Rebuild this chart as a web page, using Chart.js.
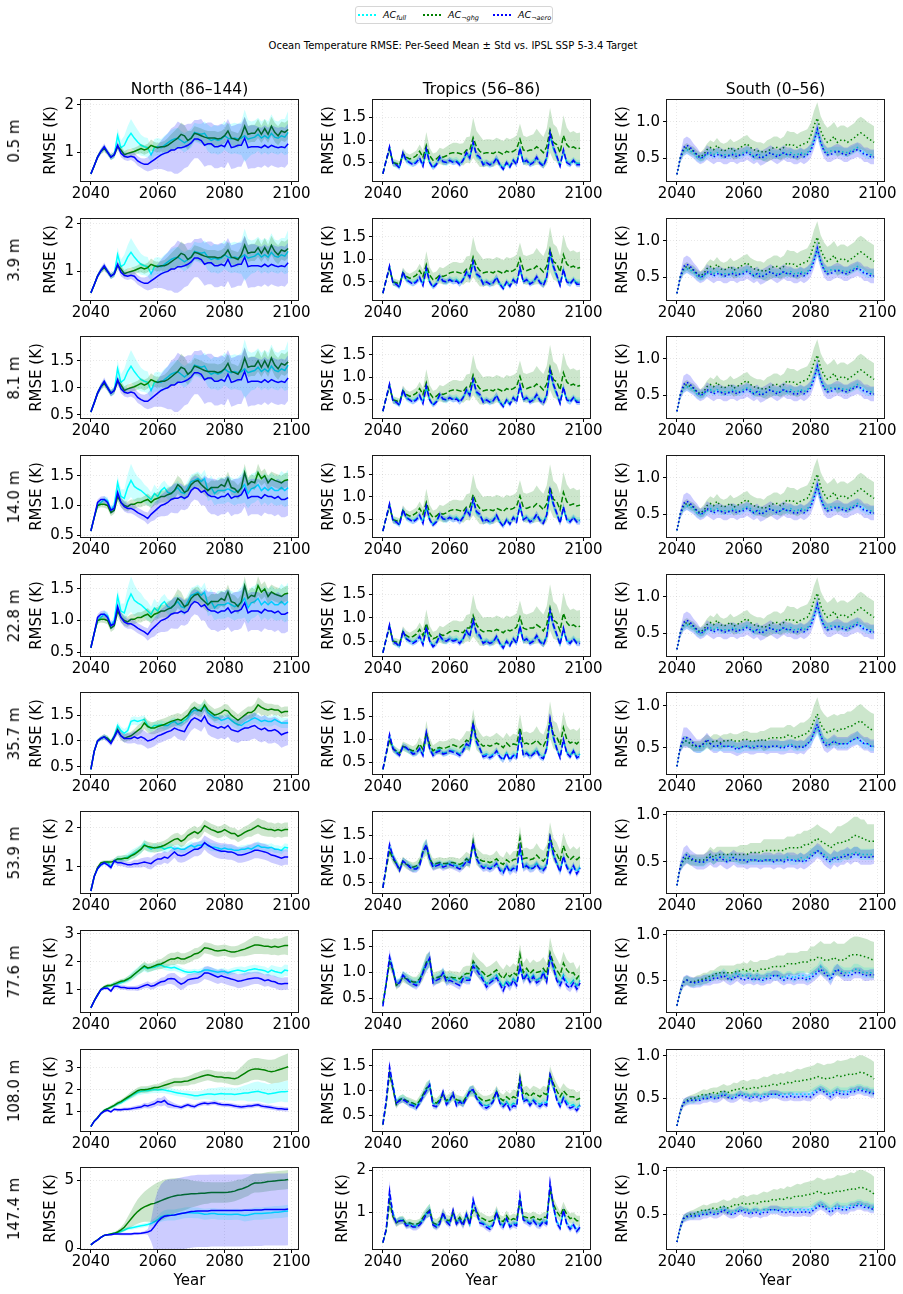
<!DOCTYPE html>
<html>
<head>
<meta charset="utf-8">
<script src="https://cdn.jsdelivr.net/npm/chart.js@4.4.1/dist/chart.umd.min.js"></script>
<style>
  body { margin: 0; background: #fff; font-family: "DejaVu Sans", sans-serif; color: #000; }
  #fig { position: relative; width: 903px; height: 1294px; overflow: hidden; }
  canvas { position: absolute; }
  .lab { position: absolute; white-space: nowrap; transform: translate(-50%, -50%); }
  .rot { transform: translate(-50%, -50%) rotate(-90deg); }
  #legend { position: absolute; left: 355px; top: 6px; width: 196px; height: 16px;
            border: 1px solid #d6d6d6; border-radius: 3px; font-size: 9.5px; }
  .lk { position: absolute; top: 7px; width: 18px; height: 2px; display: block; }
  .lt { position: absolute; top: 0px; line-height: 15px; }
  .lt i { font-style: italic; }
  .lt sub { font-size: 6.5px; font-style: italic; vertical-align: -2px; }
</style>
</head>
<body>
<div id="fig">
  <div id="legend">
    <span class="lk" style="left:2px;background:repeating-linear-gradient(90deg,#00ffff 0 2px,transparent 2px 4px)"></span><span class="lt" style="left:27px"><i>AC</i><sub>full</sub></span>
    <span class="lk" style="left:67px;background:repeating-linear-gradient(90deg,#008000 0 2px,transparent 2px 4px)"></span><span class="lt" style="left:92px"><i>AC</i><sub>¬ghg</sub></span>
    <span class="lk" style="left:137px;background:repeating-linear-gradient(90deg,#0000ff 0 2px,transparent 2px 4px)"></span><span class="lt" style="left:162px"><i>AC</i><sub>¬aero</sub></span>
  </div>
  <div class="lab" style="left:453px;top:45px;font-size:10px">Ocean Temperature RMSE: Per-Seed Mean ± Std vs. IPSL SSP 5-3.4 Target</div>
</div>
<script>
// ===== DATA (all RMSE values in 0.01 K) =====
const years = [2040,2041,2042,2043,2044,2045,2046,2047,2048,2049,
  2050,2051,2052,2053,2054,2055,2056,2057,2058,2059,
  2060,2061,2062,2063,2064,2065,2066,2067,2068,2069,
  2070,2071,2072,2073,2074,2075,2076,2077,2078,2079,
  2080,2081,2082,2083,2084,2085,2086,2087,2088,2089,
  2090,2091,2092,2093,2094,2095,2096,2097,2098,2099];

const regions = ["North (86–144)", "Tropics (56–86)", "South (0–56)"];
const depths = ["0.5 m","3.9 m","8.1 m","14.0 m","22.8 m","35.7 m","53.9 m","77.6 m","108.0 m","147.4 m"];
const seriesNames = ["full", "ghg", "aero"];
const xTickYears = [2040, 2060, 2080, 2100];

// North, 0.5 / 3.9 / 8.1 m
const nA_full    = [55,72,90,102,110,100,90,95,135,110, 115,130,140,130,122,115,112,110,95,110, 112,110,115,120,125,128,130,125,120,125, 130,142,140,138,140,130,125,128,125,128, 135,130,128,130,128,130,135,128,130,132, 138,130,135,130,140,132,130,135,132,142];
const nA_full_sd = [3,4,5,5,6,6,6,8,15,15, 20,25,30,28,25,22,20,20,15,18, 18,18,20,20,22,22,22,20,20,20, 20,20,20,22,25,28,28,30,30,30, 30,30,32,32,32,35,55,40,35,35, 35,35,35,35,40,35,35,35,38,45];
const nA_ghg     = [55,72,90,102,108,100,90,95,112,105, 95,98,100,102,105,108,105,108,115,112, 110,112,112,115,120,125,130,138,135,125, 130,140,138,135,132,130,130,130,128,130, 135,145,130,128,125,135,155,138,140,140, 150,138,150,138,155,142,135,145,142,148];
const nA_ghg_sd  = [3,4,5,6,7,6,6,6,8,8, 8,8,8,8,8,10,10,10,12,10, 10,10,12,15,18,20,22,25,22,20, 15,15,15,15,15,15,15,15,15,15, 15,18,15,15,15,18,20,18,18,18, 20,18,20,18,20,20,20,20,20,20];
const nA_aero    = [55,72,90,102,112,100,90,95,115,98, 92,90,92,90,82,78,75,75,80,85, 90,95,98,100,105,105,110,110,112,115, 120,128,128,125,115,118,118,112,112,115, 112,125,110,112,115,115,130,110,112,112, 112,110,115,110,115,112,110,112,110,118];
const nA_aero_sd = [3,4,5,6,7,6,6,6,8,8, 8,8,8,10,10,10,12,15,18,20, 25,30,35,40,45,50,55,50,45,45, 40,40,40,45,45,45,45,45,45,45, 45,45,45,45,45,45,45,45,45,45, 42,42,42,42,42,42,42,42,42,42];

// North, 14.0 / 22.8 m
const nB_full    = [57,80,100,105,110,108,92,100,138,115, 112,130,142,132,128,125,120,115,110,120, 115,125,130,122,120,125,130,122,120,130, 140,142,145,140,145,125,130,120,125,125, 125,128,125,122,125,128,135,120,128,130, 135,125,130,125,130,125,125,130,125,130];
const nB_full_sd = [3,4,5,5,6,6,6,8,12,12, 15,22,28,25,20,18,15,15,12,15, 12,12,12,12,12,12,12,12,12,12, 12,12,12,12,15,18,20,20,22,22, 22,22,22,22,22,25,30,25,25,25, 25,25,25,25,25,25,25,28,28,30];
const nB_ghg     = [57,80,100,102,102,100,88,92,115,105, 100,98,102,102,105,105,108,110,105,110, 112,115,115,118,120,125,135,130,122,125, 135,140,142,135,130,125,130,130,130,135, 132,145,130,128,122,130,155,135,140,138, 155,145,150,138,145,142,140,138,142,143];
const nB_ghg_sd  = [3,4,5,5,6,6,6,6,8,8, 8,8,8,8,8,8,8,10,10,10, 10,10,10,12,12,15,15,15,12,12, 12,12,12,12,12,12,12,12,12,12, 12,12,12,12,12,12,15,12,12,12, 15,12,12,12,12,12,12,12,12,12];
const nB_aero    = [57,80,105,110,110,105,92,95,122,105, 98,95,95,92,88,85,82,78,85,90, 95,100,102,105,110,112,112,115,112,115, 125,130,128,122,125,118,115,115,112,115, 115,120,112,115,115,118,128,112,115,115, 115,112,118,115,115,112,115,110,110,113];
const nB_aero_sd = [3,4,5,5,6,6,6,6,8,8, 8,8,8,8,8,8,8,10,12,15, 15,18,20,22,22,25,25,22,20,20, 20,20,20,22,25,28,30,30,30,30, 30,30,30,30,30,30,30,30,30,30, 30,30,30,30,30,30,30,30,30,30];

// North, 35.7 m
const nC_full    = [45,80,100,105,108,105,98,110,130,120, 115,120,138,140,138,140,142,130,125,130, 130,132,130,130,135,138,132,135,140,145, 155,160,158,162,168,155,150,145,145,140, 142,145,140,135,132,130,135,138,142,145, 142,138,140,138,138,142,138,135,135,135];
const nC_full_sd = [2,3,4,4,5,5,5,6,8,8, 8,8,8,8,8,8,8,8,8,8, 8,8,8,8,8,8,8,8,8,8, 8,8,8,10,10,10,10,10,10,10, 10,10,10,10,10,10,10,10,10,10, 10,10,10,10,10,10,10,10,10,10];
const nC_ghg     = [45,80,100,105,108,105,98,108,122,110, 105,108,110,115,120,125,135,128,125,125, 128,130,132,135,138,140,142,140,145,150, 160,165,160,158,170,160,155,150,152,155, 160,158,150,145,140,145,150,155,155,160, 170,165,162,160,162,160,160,155,157,157];
const nC_ghg_sd  = [2,3,4,4,5,5,5,6,8,8, 8,8,8,8,10,10,12,12,12,12, 12,12,12,12,12,12,12,12,12,12, 12,12,12,12,12,12,12,12,12,12, 12,12,12,12,12,12,12,12,12,12, 15,15,12,12,10,10,10,10,10,10];
const nC_aero    = [45,80,100,105,108,102,95,108,120,110, 105,105,105,108,105,108,105,100,102,105, 110,112,115,118,120,125,122,120,118,130, 140,145,142,138,148,135,130,128,125,128, 125,130,122,120,118,122,125,125,128,130, 125,122,125,120,120,122,118,112,115,117];
const nC_aero_sd = [2,3,4,4,5,5,5,6,8,8, 8,10,10,12,12,15,15,15,15,15, 15,15,15,15,15,15,18,18,18,20, 20,20,20,20,20,22,22,22,22,22, 22,22,22,22,22,22,25,25,25,25, 25,25,25,25,25,25,25,25,25,25];

// North, 53.9 m
const nD_full    = [38,75,95,105,110,112,100,115,120,120, 122,125,130,135,140,145,158,150,145,150, 148,150,145,148,150,145,148,145,145,150, 155,150,155,155,160,155,150,150,148,145, 148,145,145,142,142,145,145,148,145,150, 155,150,150,148,150,145,145,142,150,148];
const nD_full_sd = [2,3,4,5,5,5,6,6,8,8, 8,10,12,12,12,12,12,12,10,10, 10,10,10,10,10,10,10,10,10,10, 10,10,10,10,10,10,10,10,10,10, 10,10,10,10,10,10,10,10,10,10, 10,10,10,10,10,10,10,10,10,10];
const nD_ghg     = [38,75,98,110,112,112,112,115,120,120, 122,122,128,132,138,145,155,152,150,148, 150,152,155,160,165,170,172,165,170,180, 185,190,185,192,205,200,195,192,188,190, 195,190,185,185,178,182,188,192,195,200, 205,200,198,195,195,192,195,192,195,195];
const nD_ghg_sd  = [2,3,4,5,5,5,6,6,8,8, 8,8,8,10,10,10,12,12,12,12, 12,12,12,12,15,15,15,15,15,15, 15,15,15,15,15,15,15,15,15,15, 15,15,15,15,15,15,15,15,18,18, 20,20,20,18,18,18,18,18,18,18];
const nD_aero    = [38,75,95,105,110,105,98,115,110,110, 108,105,105,108,108,110,112,110,108,115, 120,120,125,122,130,138,130,128,130,135, 140,145,145,150,162,155,150,145,142,140, 140,138,138,135,130,130,132,135,138,142, 142,140,138,135,130,128,125,122,125,125];
const nD_aero_sd = [2,3,4,5,5,5,6,6,8,8, 8,8,8,10,10,12,12,15,15,15, 15,15,15,15,15,15,18,18,18,18, 18,18,18,18,18,20,20,20,20,20, 20,20,20,20,20,20,20,20,20,20, 20,20,20,20,20,20,20,20,20,20];

// North, 77.6 m
const nE_full    = [35,60,80,100,108,112,115,120,122,125, 130,135,145,155,165,175,180,175,178,180, 185,188,182,180,178,180,175,170,165,162, 162,165,162,165,170,170,168,165,162,165, 165,160,165,168,170,168,165,170,172,175, 172,170,168,162,170,165,162,160,170,168];
const nE_full_sd = [3,4,5,6,6,6,6,8,8,10, 10,12,15,15,15,15,15,15,12,12, 12,12,12,12,12,12,12,10,10,10, 10,10,10,12,12,12,12,12,12,12, 12,12,12,12,12,15,15,15,15,15, 15,15,15,15,18,20,20,20,20,20];
const nE_ghg     = [35,60,82,100,110,115,115,120,125,130, 132,138,145,155,165,175,185,178,180,185, 190,192,198,205,210,210,215,210,210,215, 220,228,230,238,250,248,245,240,238,240, 242,238,235,235,238,242,245,250,255,260, 260,258,255,255,252,255,252,255,258,258];
const nE_ghg_sd  = [3,4,5,6,6,6,6,8,8,8, 8,10,10,12,12,15,15,15,15,15, 18,18,20,22,22,22,22,20,20,20, 20,20,20,20,20,20,20,20,20,20, 20,20,20,20,20,22,25,28,30,32, 32,30,28,28,28,30,30,30,32,35];
const nE_aero    = [35,60,80,100,105,105,95,112,112,108, 108,105,105,105,105,110,115,118,112,115, 122,128,130,138,140,138,128,120,125,135, 138,140,142,148,160,160,155,150,145,150, 145,142,138,135,130,132,135,138,140,142, 142,138,132,135,130,128,122,120,122,122];
const nE_aero_sd = [3,4,5,6,6,6,6,8,8,8, 8,8,8,8,10,10,10,12,12,12, 12,15,15,18,20,22,22,22,20,20, 20,20,20,20,22,25,25,25,25,25, 25,25,25,25,25,25,25,25,22,22, 22,22,22,22,22,22,22,22,22,22];

// North, 108.0 m
const nF_full    = [30,55,70,90,105,112,118,125,135,140, 150,160,170,180,188,192,195,195,198,200, 198,200,198,195,192,188,185,182,180,178, 175,172,172,175,178,180,180,178,180,182, 180,180,180,178,180,182,185,185,188,190, 192,188,185,180,182,185,188,190,190,192];
const nF_full_sd = [3,4,5,6,6,6,8,8,10,10, 10,12,12,15,15,15,15,15,15,15, 15,15,15,15,15,15,15,15,15,18, 18,20,20,20,22,25,28,30,30,30, 30,30,30,30,30,32,35,40,42,45, 45,45,45,45,45,45,45,45,48,50];
const nF_ghg     = [30,55,72,90,105,112,120,128,138,145, 155,165,175,185,195,200,200,202,205,210, 210,215,220,225,230,235,235,235,238,240, 245,250,255,260,265,268,265,260,258,258, 255,255,252,250,255,265,275,285,292,295, 295,292,290,285,282,285,290,295,300,305];
const nF_ghg_sd  = [3,4,5,6,6,6,8,8,10,10, 10,12,15,15,15,15,15,15,15,15, 15,18,18,20,20,20,20,20,20,22, 22,25,25,25,25,25,25,25,25,25, 25,28,30,30,35,40,45,50,50,50, 50,50,50,52,55,55,58,60,60,62];
const nF_aero    = [30,55,70,90,100,105,98,110,108,108, 110,110,112,115,118,120,128,125,130,135, 145,142,150,135,130,125,122,118,125,130, 125,122,130,135,138,135,138,140,135,132, 130,130,128,125,122,120,122,125,125,128, 130,125,122,120,118,115,112,112,110,110];
const nF_aero_sd = [3,4,5,6,6,6,6,6,8,8, 8,8,8,10,10,10,12,12,15,15, 18,20,22,18,15,12,10,10,10,10, 10,10,10,10,10,10,10,10,10,10, 10,10,10,10,10,10,10,10,10,10, 10,10,10,10,10,10,10,10,10,10];

// North, 147.4 m
const nG_full    = [25,45,60,80,95,100,105,110,115,125, 135,145,150,155,160,165,170,175,182,195, 210,230,240,245,245,245,250,255,260,262, 262,260,260,255,250,252,255,255,250,250, 250,248,248,250,250,245,242,245,250,255, 255,255,258,260,262,265,265,268,272,275];
const nG_full_sd = [3,4,5,6,6,6,8,8,10,10, 12,12,15,15,15,15,15,15,20,25, 30,35,40,40,40,40,40,40,40,40, 40,40,40,40,40,40,40,40,40,40, 40,40,40,40,40,40,45,45,45,45, 45,45,45,45,45,45,45,45,45,45];
const nG_ghg     = [25,45,62,80,95,100,105,110,120,135, 155,185,215,245,270,290,305,315,325,330, 340,350,360,370,378,385,390,392,395,398, 400,400,402,405,405,408,410,410,410,410, 410,412,415,420,430,435,445,455,470,480, 480,482,485,490,492,495,498,500,502,505];
const nG_ghg_sd  = [3,4,5,6,6,6,8,10,15,20, 30,45,60,75,90,100,110,120,130,140, 145,145,145,140,135,130,125,120,115,110, 100,95,90,85,80,80,75,75,75,75, 75,75,75,75,75,70,70,70,70,70, 70,70,70,70,70,70,70,70,70,70];
const nG_aero    = [25,45,60,80,95,100,100,105,105,105, 105,105,105,108,108,110,115,120,130,160, 195,220,235,240,242,245,250,255,260,265, 270,272,275,275,275,275,278,278,278,278, 278,278,278,278,278,278,280,280,280,282, 282,282,285,285,285,285,285,285,285,288];
const nG_aero_sd = [3,4,5,6,6,6,6,8,8,10, 10,10,10,10,10,10,12,20,80,180, 230,250,260,265,265,265,265,265,265,265, 265,265,265,265,265,265,265,265,265,265, 265,265,265,265,265,265,265,265,265,265, 265,265,265,265,265,265,265,265,265,265];

// Tropics, 0.5 – 22.8 m
const tA_full    = [25,55,82,50,45,40,70,55,50,48, 52,58,45,78,50,40,48,60,52,50, 55,52,55,48,55,70,62,92,65,60, 48,50,45,50,58,45,38,50,42,55, 48,80,52,55,48,50,60,50,45,60, 110,82,62,45,75,50,48,55,48,48];
const tA_full_sd = [2,5,8,8,8,6,8,8,8,8, 8,8,8,10,8,6,8,8,8,8, 8,8,8,8,8,8,8,10,8,8, 8,8,8,8,8,8,8,8,8,8, 8,10,8,8,8,8,8,8,8,8, 12,10,8,8,10,8,8,8,8,8];
const tA_ghg     = [25,55,80,50,48,45,70,62,58,60, 65,75,62,88,65,55,58,65,62,65, 70,72,72,70,68,78,78,105,85,75, 70,72,72,70,75,72,68,75,72,75, 80,102,78,75,78,78,85,80,72,85, 122,95,90,72,110,90,82,85,80,82];
const tA_ghg_sd  = [2,5,10,8,8,8,12,10,10,12, 12,15,15,30,18,15,15,18,18,20, 20,22,22,22,25,28,30,45,35,35, 30,30,30,30,30,30,30,30,30,30, 30,35,32,32,32,35,40,35,35,40, 50,40,38,35,45,38,35,35,35,35];
const tA_aero    = [25,55,85,48,45,38,72,55,50,45, 50,60,42,80,50,38,45,62,52,50, 55,50,52,45,55,72,60,95,68,62, 45,50,45,48,60,45,35,50,40,55, 45,82,50,55,45,50,62,48,42,60, 115,85,65,42,78,50,45,55,45,45];
const tA_aero_sd = [2,5,8,6,5,5,8,6,5,5, 6,8,5,10,6,5,6,8,6,6, 6,6,6,6,6,8,8,10,8,8, 6,6,6,6,8,6,5,6,5,6, 6,10,6,6,6,6,8,6,6,8, 12,10,8,6,10,6,6,6,6,6];

// Tropics, 35.7 m
const tC_full    = [35,68,105,82,72,68,85,80,75,70, 72,78,68,112,80,68,75,78,70,72, 75,75,72,68,78,88,85,130,92,80, 65,68,62,68,75,62,58,70,58,68, 62,108,68,72,65,70,78,65,60,80, 140,102,80,62,98,72,65,75,62,68];
const tC_full_sd = [3,6,10,8,8,6,8,8,8,8, 8,8,8,12,8,8,8,8,8,8, 8,8,8,8,8,10,8,12,8,8, 8,8,8,8,8,8,8,8,8,8, 8,10,8,8,8,8,8,8,8,8, 12,10,8,8,10,8,8,8,8,8];
const tC_ghg     = [35,68,100,80,75,70,85,82,78,75, 78,90,78,115,88,75,80,82,80,82, 85,88,85,82,88,98,95,135,102,92, 85,88,85,88,92,88,82,92,85,90, 88,125,90,92,88,92,98,90,85,100, 142,110,105,88,125,100,92,95,90,98];
const tC_ghg_sd  = [3,6,10,8,8,8,10,10,10,10, 12,15,12,25,15,12,12,15,15,15, 15,15,15,15,18,20,22,30,25,22, 20,20,20,20,22,20,20,22,20,22, 22,30,25,25,25,25,30,25,25,30, 40,30,30,25,35,30,28,28,28,28];
const tC_aero    = [35,70,110,80,72,65,85,82,75,68, 70,80,65,115,80,65,72,75,68,70, 75,72,70,65,75,90,85,135,95,80, 62,65,60,65,75,62,55,70,55,65, 60,110,65,70,62,68,75,62,58,80, 145,105,80,60,100,70,62,75,60,65];
const tC_aero_sd = [3,6,10,8,6,6,6,6,6,6, 6,8,6,12,8,6,6,6,6,6, 6,6,6,6,8,8,8,12,8,8, 6,6,6,6,8,6,6,6,6,6, 6,10,6,6,6,6,8,6,6,8, 12,10,8,6,10,6,6,6,6,6];

// Tropics, 53.9 m
const tD_full    = [38,82,125,105,92,78,95,90,85,80, 80,88,118,128,100,85,88,90,85,88, 90,88,85,82,88,95,92,132,100,90, 82,85,80,85,90,78,72,85,75,82, 78,120,82,88,80,82,90,80,78,88, 140,108,92,75,102,85,72,85,72,82];
const tD_full_sd = [3,8,12,10,8,8,8,8,8,8, 8,10,15,15,12,8,8,8,8,8, 8,8,8,8,8,10,8,12,8,8, 8,8,8,8,8,8,8,8,8,8, 8,12,8,8,8,8,8,8,8,8, 12,10,8,8,10,8,8,8,8,8];
const tD_ghg     = [38,80,118,100,90,78,95,88,85,82, 85,92,115,125,100,88,90,92,90,90, 92,92,90,88,92,100,95,138,105,98, 95,95,92,95,100,92,88,98,92,98, 100,145,100,102,98,100,108,100,95,105, 148,120,110,95,128,108,98,105,98,105];
const tD_ghg_sd  = [3,8,12,10,10,10,10,10,10,10, 10,12,15,18,15,12,12,12,12,12, 12,12,12,12,15,15,15,20,18,18, 15,15,15,15,18,15,15,18,15,18, 18,25,22,22,22,22,25,22,22,25, 30,25,25,22,28,25,22,22,22,22];
const tD_aero    = [38,85,130,105,90,75,95,90,82,78, 78,85,115,130,100,82,85,88,82,85, 88,85,82,78,85,95,92,135,100,88, 80,82,78,82,90,75,70,85,72,80, 75,125,80,85,78,80,88,78,75,85, 145,110,90,72,105,82,70,85,68,80];
const tD_aero_sd = [3,8,12,10,8,6,8,8,8,8, 8,8,10,12,10,8,8,8,8,8, 8,8,8,8,8,10,8,12,8,8, 8,8,8,8,8,8,8,8,8,8, 8,12,8,8,8,8,8,8,8,8, 12,10,8,8,10,8,8,8,8,8];

// Tropics, 77.6 m
const tE_full    = [38,80,125,110,80,82,95,90,85,80, 80,85,105,118,125,85,88,92,100,85, 90,88,85,82,90,90,88,115,108,98, 90,78,85,88,95,82,72,85,78,88, 80,110,90,98,88,95,85,90,100,88, 128,112,90,80,95,82,78,85,75,85];
const tE_full_sd = [3,8,12,10,8,8,8,10,10,10, 10,10,12,15,15,10,10,10,10,10, 10,10,10,10,10,10,10,10,10,10, 10,10,10,10,10,10,10,10,10,10, 10,10,10,10,10,10,10,10,10,10, 12,10,10,10,10,10,10,10,10,10];
const tE_ghg     = [40,78,120,105,75,80,92,88,85,82, 82,88,100,120,125,88,90,92,95,90, 92,90,90,88,95,98,98,122,112,105, 100,92,95,100,105,95,88,98,92,100, 95,135,100,108,98,105,100,102,108,98, 138,118,105,95,118,105,98,100,88,98];
const tE_ghg_sd  = [3,8,12,10,8,8,10,10,10,10, 10,12,15,15,15,12,12,12,12,12, 12,12,12,12,15,15,15,18,18,18, 18,18,18,18,18,18,18,18,18,18, 18,20,18,20,20,20,20,20,22,20, 30,22,22,20,22,20,20,20,18,18];
const tE_aero    = [35,80,130,105,78,80,95,88,82,78, 75,82,100,115,128,80,85,88,100,82, 85,82,78,75,88,85,85,112,105,95, 85,72,80,85,90,78,65,80,72,85, 75,112,85,95,82,92,80,85,100,82, 130,110,85,75,90,75,70,80,68,80];
const tE_aero_sd = [3,8,15,10,8,8,8,8,8,8, 8,8,10,15,15,8,8,8,10,8, 8,8,8,8,8,8,8,10,10,10, 8,8,8,8,8,8,8,8,8,8, 8,10,8,8,8,8,8,8,8,8, 12,10,8,8,10,8,8,8,8,8];

// Tropics, 108.0 m
const tF_full    = [32,78,140,112,78,82,85,80,75,72, 68,78,90,102,112,75,72,80,95,75, 82,92,75,80,75,88,100,100,88,78, 72,70,72,80,98,78,72,78,68,75, 72,120,82,85,75,82,78,72,78,75, 128,108,85,72,88,78,70,72,65,72];
const tF_full_sd = [3,8,12,10,8,8,8,8,8,8, 8,8,10,12,12,8,8,8,8,8, 8,8,8,8,8,8,10,10,8,8, 8,8,8,8,10,8,8,8,8,8, 8,10,8,8,8,8,8,8,8,8, 10,10,8,8,8,8,8,8,8,8];
const tF_ghg     = [32,75,135,105,72,82,85,80,78,75, 72,80,92,105,110,78,75,82,92,80, 85,90,82,80,78,88,98,100,92,85, 80,80,82,85,98,85,80,88,82,88, 85,128,92,95,88,95,92,88,95,92, 132,115,100,88,100,92,88,88,82,85];
const tF_ghg_sd  = [3,8,12,10,8,8,8,8,8,8, 8,10,10,12,12,10,10,10,10,10, 10,10,10,10,10,10,10,12,10,10, 10,10,10,12,12,12,12,12,12,15, 15,15,15,15,15,15,15,15,15,15, 18,15,15,15,15,15,15,15,15,15];
const tF_aero    = [32,80,148,110,75,80,82,78,72,70, 65,75,88,100,112,70,68,78,98,72, 80,95,70,78,72,85,100,102,85,75, 68,65,70,78,100,75,68,75,62,70, 68,122,78,82,70,80,72,68,75,70, 132,110,82,68,85,72,65,68,60,70];
const tF_aero_sd = [3,8,15,10,8,6,6,6,6,6, 6,6,8,10,10,6,6,6,8,6, 6,8,6,6,6,6,8,8,6,6, 6,6,6,6,8,6,6,6,6,6, 6,10,6,6,6,6,6,6,6,6, 10,8,6,6,8,6,6,6,6,6];

// Tropics, 147.4 m
const tG_full    = [28,58,140,98,78,82,82,72,72,68, 68,75,82,98,105,72,68,75,95,80, 75,100,75,85,72,95,72,125,100,78, 75,68,65,72,100,75,68,85,68,75, 72,135,85,80,75,82,72,72,80,75, 160,112,78,65,100,75,62,72,58,62];
const tG_full_sd = [3,8,20,10,8,8,8,8,8,8, 8,8,10,12,15,8,8,8,10,8, 8,10,8,8,8,10,8,12,10,8, 8,8,8,8,10,8,8,8,8,8, 8,15,8,8,8,8,8,8,8,8, 20,12,8,8,10,8,8,8,8,8];
const tG_ghg     = [28,58,125,90,75,80,82,72,75,72, 72,75,88,98,105,75,72,78,95,82, 80,98,78,88,75,92,78,105,102,88, 85,80,78,82,100,82,78,92,80,85, 82,125,90,88,85,90,85,82,88,88, 155,120,102,90,110,95,85,88,80,80];
const tG_ghg_sd  = [3,8,20,10,10,10,10,10,10,10, 10,10,12,12,15,12,12,12,15,12, 12,15,12,12,12,15,12,15,15,12, 12,12,12,12,15,12,12,12,12,12, 12,18,12,12,12,12,12,12,12,12, 20,15,15,12,15,12,12,12,12,12];
const tG_aero    = [28,60,150,95,75,80,80,68,70,65, 65,70,80,95,102,70,65,72,100,78, 70,105,72,82,68,95,70,130,100,75, 72,65,60,70,100,72,65,85,65,72, 68,140,82,78,72,80,70,68,78,72, 170,115,75,62,105,72,60,70,55,65];
const tG_aero_sd = [3,8,25,10,8,8,8,8,8,8, 8,8,8,10,12,8,8,8,10,8, 8,10,8,8,8,10,8,12,10,8, 8,8,8,8,10,8,8,8,8,8, 8,15,8,8,8,8,8,8,8,8, 20,12,8,8,10,8,8,8,8,8];

// South, 0.5 – 22.8 m
const sA_full    = [28,50,60,62,60,58,52,50,52,55, 58,55,58,55,55,55,55,58,55,55, 58,60,58,52,55,55,52,55,58,55, 55,55,58,55,58,55,55,58,55,58, 62,75,88,72,62,58,60,60,60,60, 58,58,60,62,65,60,58,55,55,55];
const sA_full_sd = [2,5,6,6,6,6,6,6,6,6, 6,6,6,6,6,6,6,6,6,6, 6,6,6,6,6,6,6,6,6,6, 6,6,6,6,6,6,6,6,6,6, 6,8,10,8,6,6,6,6,6,6, 6,6,6,6,6,6,6,6,6,6];
const sA_ghg     = [28,50,62,65,62,60,55,52,55,62, 65,62,68,62,60,62,65,60,62,65, 68,70,65,62,60,60,58,60,62,65, 65,62,65,70,68,68,65,68,70,72, 80,95,105,88,78,72,75,80,72,75, 75,72,75,78,82,85,82,78,75,72];
const sA_ghg_sd  = [2,5,6,6,6,6,6,6,8,8, 10,10,10,10,10,10,12,12,12,12, 12,12,12,12,12,12,12,15,15,15, 15,15,15,18,18,18,18,18,18,18, 18,20,22,20,20,20,20,20,20,20, 20,20,20,20,22,22,22,22,22,22];
const sA_aero    = [28,50,65,68,65,60,55,50,52,58, 55,52,55,55,52,52,55,55,52,55, 55,58,55,52,55,50,52,55,58,55, 52,55,58,55,55,52,52,55,52,55, 60,72,90,72,60,55,55,58,60,58, 55,55,58,60,62,60,55,55,52,52];
const sA_aero_sd = [2,6,12,12,12,10,10,8,8,10, 10,10,10,10,10,10,10,10,10,10, 10,10,10,10,10,10,10,10,10,10, 10,10,10,10,10,10,10,10,10,10, 10,10,12,10,10,10,10,10,10,10, 10,10,10,10,10,10,10,10,10,10];

// South, 35.7 m
const sB_full    = [28,50,58,58,55,52,50,50,52,55, 55,52,52,52,52,52,52,52,50,50, 52,52,52,52,52,52,52,52,52,52, 52,52,52,52,55,52,52,52,52,55, 58,68,75,65,58,55,55,58,55,55, 55,55,58,60,62,58,55,55,52,52];
const sB_full_sd = [2,5,6,6,6,6,6,6,6,6, 6,6,6,6,6,6,6,6,6,6, 6,6,6,6,6,6,6,6,6,6, 6,6,6,6,6,6,6,6,6,6, 6,8,10,8,6,6,6,6,6,6, 6,6,6,6,8,6,6,6,6,6];
const sB_ghg     = [28,50,58,58,55,52,52,52,55,58, 55,58,58,56,58,58,60,58,58,58, 60,60,58,58,58,60,58,60,62,62, 62,62,62,65,65,62,62,65,65,68, 72,82,90,78,72,68,70,72,70,72, 72,75,75,78,80,82,78,75,72,70];
const sB_ghg_sd  = [2,5,6,6,6,6,6,6,8,8, 8,8,8,8,8,8,8,8,8,10, 10,10,10,10,10,10,12,12,12,12, 12,12,12,12,12,12,15,15,15,15, 15,18,20,18,18,18,18,18,18,18, 18,18,18,18,20,20,20,20,20,20];
const sB_aero    = [28,50,62,62,60,55,52,52,55,60, 55,52,52,55,52,52,52,50,48,50, 52,52,50,50,52,52,52,50,52,52, 52,50,50,52,52,52,50,52,50,55, 58,68,78,65,55,52,55,58,55,55, 55,55,58,60,62,58,55,55,52,52];
const sB_aero_sd = [2,6,12,12,10,10,8,8,8,8, 8,8,8,8,8,8,8,8,8,8, 8,8,8,8,8,8,8,8,8,8, 8,8,8,8,8,8,8,8,8,8, 8,8,10,8,8,8,8,8,8,8, 8,8,8,8,8,8,8,8,8,8];

// South, 53.9 m
const sC_full    = [25,45,52,55,52,52,50,50,50,52, 55,52,55,55,55,52,55,55,52,52, 52,52,52,52,52,52,52,52,52,52, 52,52,52,55,52,52,52,55,52,55, 58,60,62,60,58,55,52,55,55,55, 58,58,58,60,60,58,58,58,58,58];
const sC_full_sd = [2,5,6,6,5,5,5,5,5,5, 5,5,5,5,5,5,5,5,5,5, 5,5,5,5,5,5,5,5,5,5, 5,5,5,5,5,5,5,5,5,5, 6,6,6,6,6,6,6,6,6,6, 6,6,6,6,6,6,6,6,6,6];
const sC_ghg     = [25,45,52,55,52,52,52,52,52,55, 58,55,58,58,58,58,58,58,58,58, 58,58,60,60,60,60,62,62,62,62, 62,62,62,65,65,65,65,65,68,68, 70,72,75,72,70,68,65,68,70,70, 72,72,75,78,78,75,75,72,72,72];
const sC_ghg_sd  = [2,5,6,6,6,6,6,6,6,6, 8,8,8,8,8,8,8,8,8,10, 10,10,10,10,10,10,12,12,12,12, 12,12,12,12,12,12,15,15,15,15, 15,15,15,15,15,15,15,15,18,18, 18,20,20,20,20,20,20,18,18,18];
const sC_aero    = [25,45,55,58,55,52,50,50,50,52, 55,52,52,55,52,50,52,55,52,52, 52,50,52,52,52,50,52,52,52,50, 52,52,50,52,52,52,50,52,50,52, 55,58,62,60,55,52,50,55,52,55, 55,58,55,58,58,55,55,55,55,56];
const sC_aero_sd = [2,6,10,10,8,8,8,8,8,8, 8,8,8,8,8,8,8,8,8,8, 8,8,8,8,8,8,8,8,8,8, 8,8,8,8,8,8,8,8,8,8, 8,8,8,8,8,8,8,8,8,8, 8,8,8,8,8,8,8,8,8,8];

// South, 77.6 m
const sD_full    = [22,38,48,50,48,47,48,48,50,52, 52,55,55,55,58,55,52,55,58,55, 55,55,55,52,55,52,52,55,55,55, 55,55,52,55,55,52,55,55,55,52, 55,58,60,65,60,58,52,60,62,60, 58,58,58,62,62,60,58,58,58,58];
const sD_full_sd = [2,4,5,5,5,5,5,5,5,5, 5,5,5,5,5,5,5,5,5,5, 5,5,5,5,5,5,5,5,5,5, 5,5,5,5,5,5,5,5,5,5, 6,6,6,8,6,6,6,6,6,6, 6,6,6,6,6,6,6,6,6,6];
const sD_ghg     = [22,38,48,50,48,48,50,50,52,52, 55,55,58,58,58,58,58,58,60,60, 62,60,62,60,60,62,62,62,64,65, 65,65,65,68,68,68,68,70,70,70, 72,72,75,75,72,72,72,75,72,72, 72,75,78,78,78,77,76,75,73,72];
const sD_ghg_sd  = [2,4,5,5,5,5,5,6,6,6, 6,6,6,8,8,8,8,8,8,8, 8,8,10,10,10,10,10,10,10,10, 12,12,12,12,12,12,12,12,12,12, 15,15,15,18,18,18,18,18,18,18, 18,18,18,20,20,20,20,20,20,20];
const sD_aero    = [22,38,48,50,48,47,48,48,50,50, 50,52,52,53,55,52,50,52,55,52, 50,52,52,50,52,50,50,52,52,55, 55,52,50,52,52,50,52,52,52,50, 52,55,58,62,58,55,50,58,62,58, 55,55,55,58,58,58,55,55,56,56];
const sD_aero_sd = [2,4,6,6,6,6,6,6,6,6, 6,6,6,6,6,6,6,6,6,6, 6,6,6,6,6,6,6,6,6,6, 6,6,6,6,6,6,6,6,6,6, 6,6,6,6,6,6,6,6,6,6, 6,6,6,6,6,6,6,6,6,6];

// South, 108.0 / 147.4 m
const sE_full    = [18,35,45,47,48,48,50,50,52,52, 52,52,52,55,55,55,52,52,55,55, 55,55,52,55,55,52,55,55,55,55, 55,55,55,55,55,55,55,55,55,55, 55,58,60,62,60,58,55,58,60,58, 58,58,60,60,62,62,60,60,58,58];
const sE_full_sd = [2,4,4,4,4,4,4,4,4,4, 4,4,4,4,4,4,4,4,4,4, 4,4,4,4,4,4,4,4,4,4, 4,4,4,4,4,4,4,4,4,4, 5,5,5,5,5,5,5,5,5,5, 5,5,5,5,5,5,5,5,5,5];
const sE_ghg     = [18,35,45,48,50,50,52,54,55,54, 56,57,56,58,59,57,58,61,60,62, 63,61,62,63,62,64,65,64,66,67, 66,68,67,69,68,70,71,70,72,72, 73,74,76,75,73,74,74,75,77,76, 77,78,79,78,80,81,80,78,76,73];
const sE_ghg_sd  = [2,4,4,4,4,5,5,5,6,6, 6,6,7,7,8,8,8,8,8,9, 9,9,10,10,10,10,11,11,11,12, 12,12,12,13,13,13,14,14,14,15, 15,15,16,16,16,17,17,17,18,18, 18,18,19,19,20,20,20,20,20,20];
const sE_aero    = [18,35,45,47,48,48,48,48,50,50, 52,50,50,52,55,52,50,50,52,55, 52,52,50,52,52,50,52,52,55,55, 55,53,52,52,53,52,52,52,53,52, 52,55,58,60,58,55,52,55,58,55, 55,55,58,58,60,60,58,58,56,56];
const sE_aero_sd = [2,4,5,5,5,5,5,5,5,5, 5,5,5,5,5,5,5,5,5,5, 5,5,5,5,5,5,5,5,5,5, 5,5,5,5,5,5,5,5,5,5, 5,5,5,5,5,5,5,5,5,5, 5,5,5,5,5,5,5,5,5,5];

// which dataset each subplot shows: one row per depth, columns North / Tropics / South
const panelKeys = [
  ["nA","tA","sA"], ["nA","tA","sA"], ["nA","tA","sA"], ["nB","tA","sA"], ["nB","tA","sA"],
  ["nC","tC","sB"], ["nD","tD","sC"], ["nE","tE","sD"], ["nF","tF","sE"], ["nG","tG","sE"]
];

// y tick labels per subplot
const yTicks = [
  [[1,2],[0.5,1,1.5],[0.5,1]], [[1,2],[0.5,1,1.5],[0.5,1]], [[0.5,1,1.5],[0.5,1,1.5],[0.5,1]],
  [[0.5,1,1.5],[0.5,1,1.5],[0.5,1]], [[0.5,1,1.5],[0.5,1,1.5],[0.5,1]], [[0.5,1,1.5],[0.5,1,1.5],[0.5,1]],
  [[1,2],[0.5,1,1.5],[0.5,1]], [[1,2,3],[0.5,1,1.5],[0.5,1]], [[1,2,3],[0.5,1,1.5],[0.5,1]],
  [[0,5],[1,2],[0.5,1]]
];

// ===== LAYOUT / STYLE =====
const yLimits = [
  [[0.40,2.10],[0.09,1.89],[0.19,1.30]],
  [[0.40,2.10],[0.10,1.89],[0.19,1.30]],
  [[0.44,1.94],[0.10,1.89],[0.19,1.30]],
  [[0.47,1.83],[0.12,1.90],[0.19,1.30]],
  [[0.44,1.72],[0.18,1.92],[0.19,1.30]],
  [[0.36,1.93],[0.25,2.00],[0.19,1.15]],
  [[0.33,2.40],[0.27,2.00],[0.17,1.03]],
  [[0.20,3.10],[0.24,1.80],[0.15,1.04]],
  [[0.10,3.82],[0.19,1.82],[0.12,1.07]],
  [[-0.05,5.90],[0.13,2.05],[0.10,1.03]]
];
const X_MIN = 2037.05, X_MAX = 2101.95;
const colLeft = [81, 373, 667];
const rowTop = [100, 219, 337, 456, 575, 693, 812, 931, 1050, 1168];
const PLOT_W = 217, PLOT_H = 81;
const LEFT_W = 75, RIGHT_PAD = 24, TOP_PAD = 10, BOTTOM_H = 24;
const FONT = '"DejaVu Sans", sans-serif';
const lineColors = ["#00ffff", "#008000", "#0000ff"];
const bandColors = ["rgba(0,255,255,0.2)", "rgba(0,128,0,0.2)", "rgba(0,0,255,0.2)"];
const colDash = [[], [5.5, 2.4], [1.5, 2.5]];

Chart.defaults.font.family = FONT;

// check lengths
const all = {nA_full,nA_full_sd,nA_ghg,nA_ghg_sd,nA_aero,nA_aero_sd,nB_full,nB_full_sd,nB_ghg,nB_ghg_sd,nB_aero,nB_aero_sd,
  nC_full,nC_full_sd,nC_ghg,nC_ghg_sd,nC_aero,nC_aero_sd,nD_full,nD_full_sd,nD_ghg,nD_ghg_sd,nD_aero,nD_aero_sd,
  nE_full,nE_full_sd,nE_ghg,nE_ghg_sd,nE_aero,nE_aero_sd,nF_full,nF_full_sd,nF_ghg,nF_ghg_sd,nF_aero,nF_aero_sd,
  nG_full,nG_full_sd,nG_ghg,nG_ghg_sd,nG_aero,nG_aero_sd,tA_full,tA_full_sd,tA_ghg,tA_ghg_sd,tA_aero,tA_aero_sd,
  tC_full,tC_full_sd,tC_ghg,tC_ghg_sd,tC_aero,tC_aero_sd,tD_full,tD_full_sd,tD_ghg,tD_ghg_sd,tD_aero,tD_aero_sd,
  tE_full,tE_full_sd,tE_ghg,tE_ghg_sd,tE_aero,tE_aero_sd,tF_full,tF_full_sd,tF_ghg,tF_ghg_sd,tF_aero,tF_aero_sd,
  tG_full,tG_full_sd,tG_ghg,tG_ghg_sd,tG_aero,tG_aero_sd,sA_full,sA_full_sd,sA_ghg,sA_ghg_sd,sA_aero,sA_aero_sd,
  sB_full,sB_full_sd,sB_ghg,sB_ghg_sd,sB_aero,sB_aero_sd,sC_full,sC_full_sd,sC_ghg,sC_ghg_sd,sC_aero,sC_aero_sd,
  sD_full,sD_full_sd,sD_ghg,sD_ghg_sd,sD_aero,sD_aero_sd,sE_full,sE_full_sd,sE_ghg,sE_ghg_sd,sE_aero,sE_aero_sd};
for (const k in all) {
  if (all[k].length !== years.length) throw new Error(k + " has " + all[k].length + " values");
}

// spines and the y-axis label, placed left of the tick labels like matplotlib
const frame = {
  id: "frame",
  afterDraw(chart) {
    const ctx = chart.ctx, a = chart.chartArea;
    ctx.save();
    ctx.strokeStyle = "#1a1a1a";
    ctx.lineWidth = 1;
    ctx.strokeRect(Math.round(a.left) - 0.5, Math.round(a.top) - 0.5, Math.round(a.right - a.left) + 1, Math.round(a.bottom - a.top) + 1);
    ctx.font = "15px " + FONT;
    const ys = chart.scales.y;
    const w = Math.max(...ys.ticks.map(t => ctx.measureText(String(t.label)).width));
    ctx.translate(a.left - 9 - w - 11, (a.top + a.bottom) / 2);
    ctx.rotate(-Math.PI / 2);
    ctx.textAlign = "center";
    ctx.textBaseline = "middle";
    ctx.fillStyle = "#000";
    ctx.fillText("RMSE (K)", 0, 0);
    ctx.restore();
  }
};

const fig = document.getElementById("fig");

function addLabel(text, x, y, size, rotate) {
  const d = document.createElement("div");
  d.className = "lab" + (rotate ? " rot" : "");
  d.style.left = x + "px";
  d.style.top = y + "px";
  d.style.fontSize = size + "px";
  d.textContent = text;
  fig.appendChild(d);
}

function buildPanel(r, c) {
  const key = panelKeys[r][c];
  const ticks = yTicks[r][c];
  const dec = ticks.some(t => t % 1 !== 0) ? 1 : 0;
  const W = LEFT_W + PLOT_W + RIGHT_PAD, H = TOP_PAD + PLOT_H + BOTTOM_H;
  const cv = document.createElement("canvas");
  cv.width = W; cv.height = H;
  cv.style.width = W + "px"; cv.style.height = H + "px";
  cv.style.left = (colLeft[c] - LEFT_W) + "px";
  cv.style.top = (rowTop[r] - TOP_PAD) + "px";
  fig.appendChild(cv);

  const datasets = [];
  seriesNames.forEach((name, k) => {
    const m = all[key + "_" + name], sd = all[key + "_" + name + "_sd"];
    const base = datasets.length;
    datasets.push({ data: years.map((y, i) => ({ x: y, y: (m[i] - sd[i]) / 100 })),
      borderWidth: 0, borderColor: "transparent", pointRadius: 0, fill: false, order: 100 - base });
    datasets.push({ data: years.map((y, i) => ({ x: y, y: (m[i] + sd[i]) / 100 })),
      borderWidth: 0, borderColor: "transparent", pointRadius: 0, fill: { target: base },
      backgroundColor: bandColors[k], order: 99 - base });
    datasets.push({ data: years.map((y, i) => ({ x: y, y: m[i] / 100 })),
      borderColor: lineColors[k], borderWidth: 1.5, borderDash: colDash[c], tension: 0,
      pointRadius: 0, fill: false, order: 98 - base });
  });

  new Chart(cv, {
    type: "line",
    data: { datasets },
    options: {
      responsive: false, animation: false, devicePixelRatio: 1, events: [],
      layout: { padding: { top: TOP_PAD, right: RIGHT_PAD, left: 0, bottom: 0 } },
      plugins: { legend: { display: false }, tooltip: { enabled: false } },
      scales: {
        x: {
          type: "linear", min: X_MIN, max: X_MAX,
          afterBuildTicks: s => { s.ticks = xTickYears.map(v => ({ value: v })); },
          afterFit: s => { s.height = BOTTOM_H; s.paddingLeft = 0; s.paddingRight = 0; },
          ticks: { font: { size: 15 }, color: "#000", padding: 0, maxRotation: 0, autoSkip: false, callback: v => String(v) },
          grid: { color: "rgba(0,0,0,0.09)", tickColor: "#000", tickLength: 4, tickWidth: 1 },
          border: { display: false, dash: [1, 2] }
        },
        y: {
          min: yLimits[r][c][0], max: yLimits[r][c][1],
          afterBuildTicks: s => { s.ticks = ticks.map(v => ({ value: v })); },
          afterFit: s => { s.width = LEFT_W; s.paddingTop = 0; s.paddingBottom = 0; },
          ticks: { font: { size: 15 }, color: "#000", padding: 3, callback: v => Number(v).toFixed(dec) },
          grid: { color: "rgba(0,0,0,0.09)", tickColor: "#000", tickLength: 4, tickWidth: 1 },
          border: { display: false, dash: [1, 2] }
        }
      }
    },
    plugins: [frame]
  });
}

for (let r = 0; r < depths.length; r++) {
  for (let c = 0; c < regions.length; c++) buildPanel(r, c);
  addLabel(depths[r], 14, rowTop[r] + PLOT_H / 2, 15, true);
}
regions.forEach((t, c) => {
  addLabel(t, colLeft[c] + PLOT_W / 2, 89, 15.5, false);
  addLabel("Year", colLeft[c] + PLOT_W / 2, 1280, 15, false);
});
</script>
</body>
</html>
